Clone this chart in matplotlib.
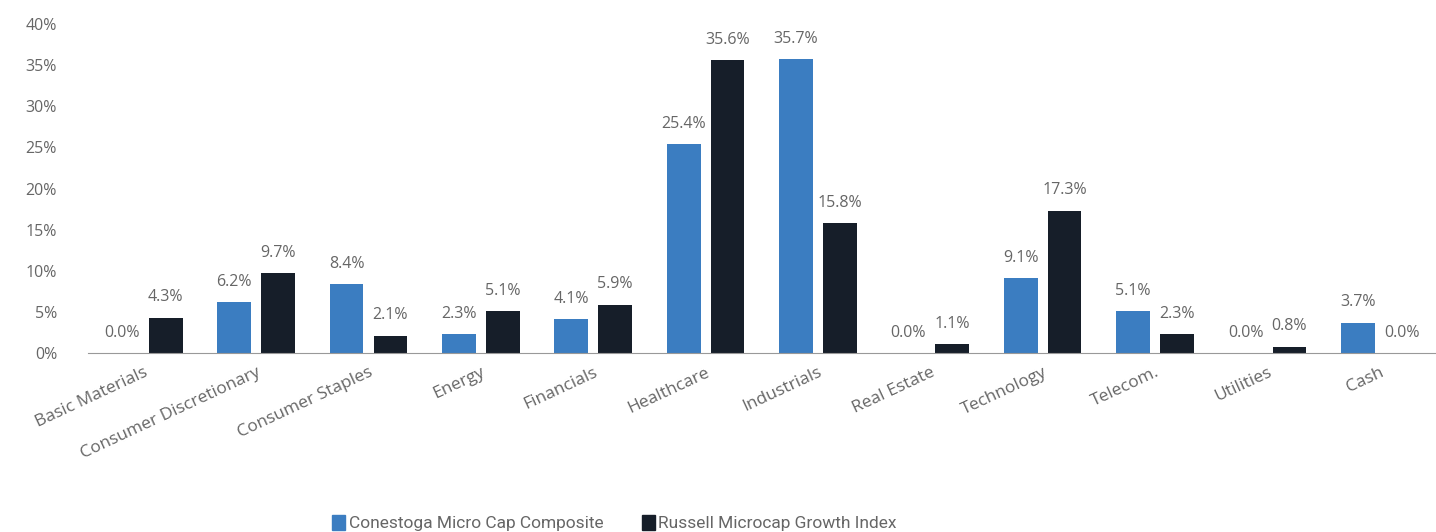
import numpy as np
import matplotlib.pyplot as plt
from matplotlib.patches import Patch

plt.rcParams['font.family'] = ['Open Sans', 'DejaVu Sans']

# Sector weights (%)
sectors = ['Basic Materials', 'Consumer Discretionary', 'Consumer Staples', 'Energy',
           'Financials', 'Healthcare', 'Industrials', 'Real Estate', 'Technology',
           'Telecom.', 'Utilities', 'Cash']
conestoga = [0.0, 6.2, 8.4, 2.3, 4.1, 25.4, 35.7, 0.0, 9.1, 5.1, 0.0, 3.7]
russell = [4.3, 9.7, 2.1, 5.1, 5.9, 35.6, 15.8, 1.1, 17.3, 2.3, 0.8, 0.0]
series_names = ['Conestoga Micro Cap Composite', 'Russell Microcap Growth Index']

blue = '#3b7dc1'
dark = '#161e29'
gray = '#666666'

fig = plt.figure(figsize=(14.36, 5.32), dpi=100)
ax = fig.add_axes([0.061, 0.336, 0.939, 0.619])

x = np.arange(len(sectors))
w = 0.30
off = 0.195
b1 = ax.bar(x - off, conestoga, w, color=blue)
b2 = ax.bar(x + off, russell, w, color=dark)

for bars, vals in [(b1, conestoga), (b2, russell)]:
    for bar, v in zip(bars, vals):
        ax.annotate(f'{v:.1f}%', (bar.get_x() + bar.get_width() / 2, v),
                    xytext=(0, 9), textcoords='offset points',
                    ha='center', va='bottom', fontsize=11.5, color=gray)

ax.set_xlim(-0.5, len(sectors) - 0.5)
ax.set_ylim(0, 40)
ax.set_yticks(range(0, 41, 5))
ax.set_yticklabels([f'{t}%' for t in range(0, 41, 5)])
ax.set_xticks(x)
ax.set_xticklabels(sectors, rotation=25, ha='right', rotation_mode='anchor')
ax.tick_params(axis='both', length=0, labelsize=11.5, colors=gray)
ax.tick_params(axis='x', labelsize=12.5, pad=8)
ax.tick_params(axis='y', pad=22)

for s in ['top', 'right', 'left']:
    ax.spines[s].set_visible(False)
ax.spines['bottom'].set_color('#999999')

handles = [Patch(color=blue), Patch(color=dark)]
fig.legend(handles, series_names, loc='lower center', ncol=2, frameon=False,
           bbox_to_anchor=(0.428, -0.028), handlelength=0.75,
           handleheight=1.0, handletextpad=0.2, columnspacing=2.2,
           labelcolor=gray,
           prop={'family': ['Liberation Sans Narrow', 'Roboto', 'DejaVu Sans'], 'size': 12.5})

fig.savefig('out.png', dpi=100)
